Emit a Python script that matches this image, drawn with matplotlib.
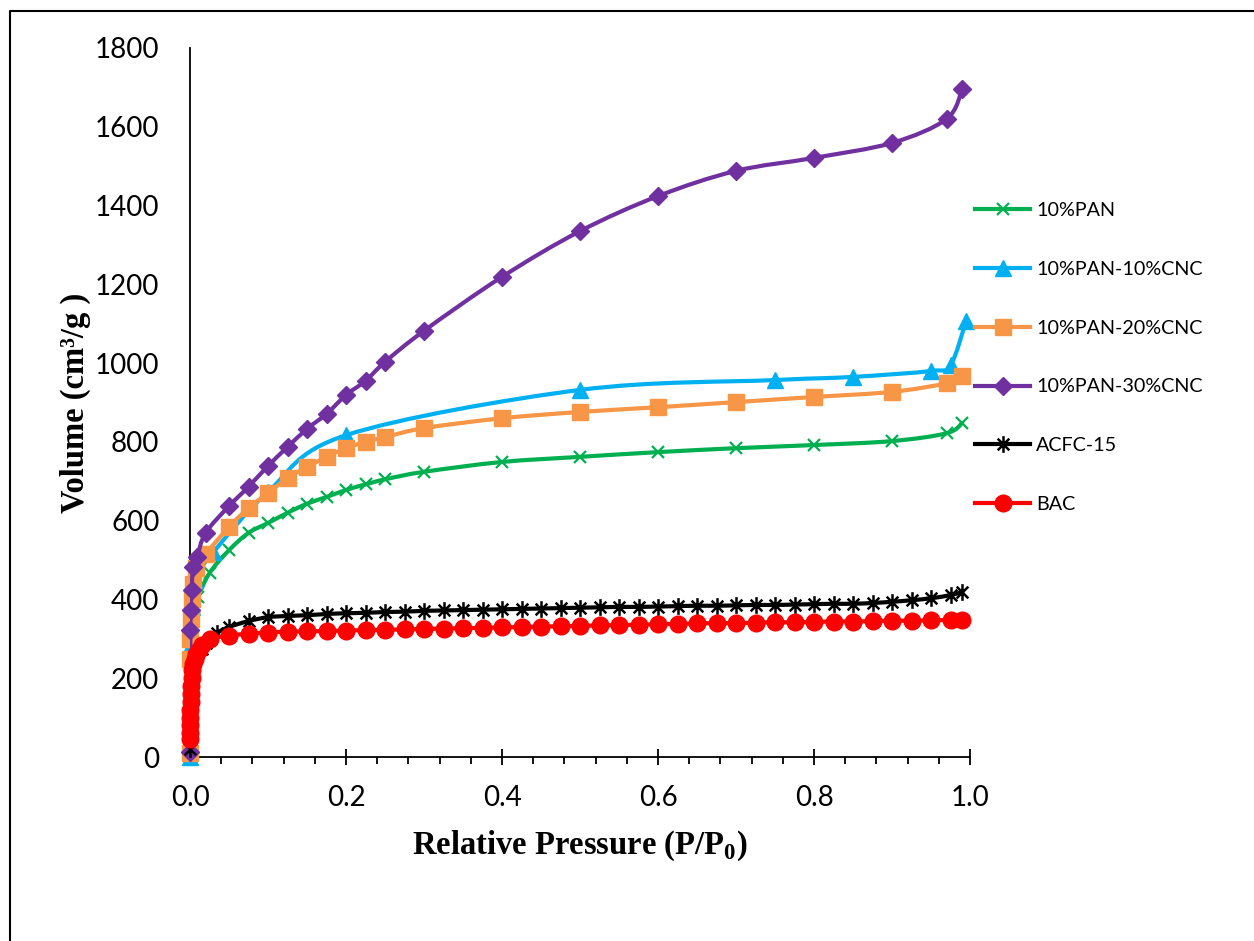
import matplotlib
matplotlib.use("Agg")
import matplotlib.pyplot as plt
import numpy as np
from matplotlib.path import Path
from matplotlib.patches import PathPatch
from matplotlib.lines import Line2D

plt.rcParams['font.family'] = ['Lato', 'DejaVu Sans']
plt.rcParams['mathtext.fontset'] = 'custom'
plt.rcParams['mathtext.rm'] = 'Liberation Serif:bold'
plt.rcParams['mathtext.bf'] = 'Liberation Serif:bold'

# ---- data ----
grid = [0.125, 0.15, 0.175, 0.2, 0.225, 0.25, 0.275, 0.3, 0.325, 0.35, 0.375, 0.4,
        0.425, 0.45, 0.475, 0.5, 0.525, 0.55, 0.575, 0.6, 0.625, 0.65, 0.675, 0.7,
        0.725, 0.75, 0.775, 0.8, 0.825, 0.85, 0.875, 0.9, 0.925, 0.95, 0.975]

p_pan = [0.00001, 0.0005, 0.002, 0.005, 0.01, 0.025, 0.05, 0.075, 0.1, 0.125, 0.15, 0.175,
         0.2, 0.225, 0.25, 0.3, 0.4, 0.5, 0.6, 0.7, 0.8, 0.9, 0.97, 0.99]
v_pan = [20, 250, 330, 380, 405, 467, 525, 569, 594, 620, 643, 660,
         678, 692, 705, 724, 749, 762, 774, 784, 792, 802, 822, 848]

p_cnc10 = [0.0, 0.0005, 0.002, 0.006, 0.03, 0.1, 0.2, 0.5, 0.75, 0.85, 0.95, 0.975, 0.995]
v_cnc10 = [0, 280, 380, 450, 520, 673, 817, 932, 957, 965, 980, 995, 1107]

p_cnc20 = [0.00001, 0.0002, 0.0005, 0.001, 0.002, 0.004, 0.008, 0.02, 0.05, 0.075, 0.1,
           0.125, 0.15, 0.175, 0.2, 0.225, 0.25, 0.3, 0.4, 0.5, 0.6, 0.7, 0.8, 0.9, 0.97, 0.99]
v_cnc20 = [10, 250, 300, 350, 400, 440, 480, 515, 584, 632, 670,
           708, 736, 762, 784, 800, 812, 835, 860, 876, 888, 901, 914, 927, 949, 967]

p_cnc30 = [0.00001, 0.0005, 0.001, 0.002, 0.004, 0.009, 0.02, 0.05, 0.075, 0.1, 0.125,
           0.15, 0.175, 0.2, 0.225, 0.25, 0.3, 0.4, 0.5, 0.6, 0.7, 0.8, 0.9, 0.97, 0.99]
v_cnc30 = [13, 322, 373, 424, 482, 508, 569, 637, 686, 739, 787,
           833, 871, 919, 955, 1003, 1082, 1219, 1335, 1424, 1488, 1521, 1559, 1620, 1696]

p_acfc = [0.00001, 0.0003, 0.001, 0.003, 0.006, 0.01, 0.015, 0.02, 0.035, 0.05, 0.075, 0.1] + grid + [0.99]
v_acfc = [20, 100, 170, 220, 250, 265, 275, 290, 315, 330, 345, 355,
          358, 360, 363, 365, 366, 368, 369, 371, 372, 373, 374, 375,
          376, 377, 378, 379, 380, 381, 381, 382, 383, 384, 384, 385,
          386, 386, 387, 388, 389, 389, 391, 394, 398, 403, 411, 419]

p_bac = [0.000001, 0.00003, 0.00008, 0.0002, 0.0004, 0.0007, 0.001, 0.0015, 0.002, 0.003,
         0.004, 0.006, 0.008, 0.011, 0.015, 0.025, 0.05, 0.075, 0.1] + grid + [0.99]
v_bac = [45, 60, 80, 100, 120, 140, 160, 180, 200, 220,
         235, 250, 262, 272, 285, 300, 308, 313, 316,
         318, 319, 320, 321, 322, 323, 324, 325, 326, 327, 328, 329,
         330, 331, 332, 333, 334, 335, 336, 337, 338, 339, 340, 340,
         341, 342, 342, 343, 344, 344, 345, 346, 346, 347, 348, 349]

asterisk = Path([(0, -1), (0, 1), (-0.7, -0.7), (0.7, 0.7), (-0.7, 0.7), (0.7, -0.7)],
                [Path.MOVETO, Path.LINETO] * 3)

series = [
    ("10%PAN", p_pan, v_pan, "#00B050", "x", 9, 1.6),
    ("10%PAN-10%CNC", p_cnc10, v_cnc10, "#00B0F0", "^", 11, 1),
    ("10%PAN-20%CNC", p_cnc20, v_cnc20, "#F79646", "s", 11, 1),
    ("10%PAN-30%CNC", p_cnc30, v_cnc30, "#7030A0", "D", 9, 1),
    ("ACFC-15", p_acfc, v_acfc, "black", asterisk, 12, 1.8),
    ("BAC", p_bac, v_bac, "#FF0000", "o", 12, 1),
]


def smooth_path(x, y):
    # Excel-style smoothed line: cubic Bezier through every point
    pts = np.column_stack([x, y]).astype(float)
    verts = [pts[0]]
    codes = [Path.MOVETO]
    n = len(pts)
    for i in range(n - 1):
        p0 = pts[i - 1] if i > 0 else pts[i]
        p1 = pts[i]
        p2 = pts[i + 1]
        p3 = pts[i + 2] if i + 2 < n else pts[i + 1]
        verts += [p1 + (p2 - p0) / 6, p2 - (p3 - p1) / 6, p2]
        codes += [Path.CURVE4] * 3
    return Path(verts, codes)


fig = plt.figure(figsize=(12.54, 9.41), dpi=100)
ax = fig.add_axes([190 / 1254, 1 - 757 / 941, 780 / 1254, 709 / 941])

handles = []
for i, (name, px, vy, col, mk, ms, mew) in enumerate(series):
    patch = PathPatch(smooth_path(px, vy), facecolor="none", edgecolor=col, lw=3,
                      capstyle="round", joinstyle="round", zorder=2 + 2 * i)
    ax.add_patch(patch)
    ax.plot(px, vy, linestyle="none", marker=mk, markersize=ms, color=col,
            markeredgecolor=col, markeredgewidth=mew, zorder=3 + 2 * i, clip_on=False)
    handles.append(Line2D([], [], color=col, lw=3, marker=mk, markersize=ms,
                          markeredgecolor=col, markeredgewidth=mew))

ax.set_xlim(0, 1.0)
ax.set_ylim(0, 1800)
ax.set_xticks([0, 0.2, 0.4, 0.6, 0.8, 1.0])
ax.set_xticklabels(["0.0", "0.2", "0.4", "0.6", "0.8", "1.0"])
ax.set_xticks(np.linspace(0, 1, 26), minor=True)
ax.set_yticks(range(0, 1801, 200))
for s in ["top", "right"]:
    ax.spines[s].set_visible(False)
for s in ["left", "bottom"]:
    ax.spines[s].set_linewidth(1.3)
ax.tick_params(axis="y", length=0, pad=22, labelsize=20)
ax.tick_params(axis="x", which="major", direction="inout", length=12, width=1.3,
               pad=14, labelsize=20)
ax.tick_params(axis="x", which="minor", direction="out", length=5, width=1.3)

ax.set_ylabel("Volume (cm³/g )", family="Liberation Serif", fontweight="bold",
              fontsize=23.5, labelpad=3)
ax.set_xlabel(r"Relative Pressure (P/P$_{\mathbf{0}}$)", family="Liberation Serif",
              fontweight="bold", fontsize=23.5, labelpad=13)

fig.legend(handles, [s[0] for s in series], loc="upper left",
           bbox_to_anchor=(975 / 1254, 1 - 202 / 941), frameon=False,
           fontsize=14.2, handlelength=2.8, handletextpad=0.3, labelspacing=2.12,
           numpoints=1, borderaxespad=0, borderpad=0)

# outer frame (top and left edge of the embedded picture)
fig.add_artist(Line2D([10 / 1254, 10 / 1254, 1.0], [0, 1 - 11 / 941, 1 - 11 / 941],
                      color="black", lw=1.5, transform=fig.transFigure))

fig.savefig("out.png", dpi=100)
